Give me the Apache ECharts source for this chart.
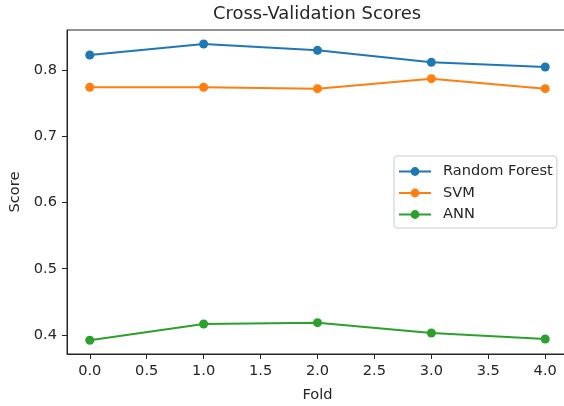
<!DOCTYPE html>
<html>
<head>
<meta charset="utf-8">
<script src="https://cdn.jsdelivr.net/npm/echarts@6/dist/echarts.min.js"></script>
<style>
  html, body { margin: 0; padding: 0; background: #fff; }
  #chart { width: 564px; height: 406px; }
</style>
</head>
<body>
<div id="chart"></div>
<script>
// Fold indices and per-model cross-validation scores
const folds = [0, 1, 2, 3, 4];
const randomForest = [0.8226, 0.8392, 0.8297, 0.8116, 0.8045];
const svm = [0.7739, 0.7739, 0.7718, 0.7869, 0.7718];
const ann = [0.3920, 0.4166, 0.4186, 0.4030, 0.3940];

// Tick positions
const xTicks = [0, 0.5, 1, 1.5, 2, 2.5, 3, 3.5, 4];
const yTicks = [0.4, 0.5, 0.6, 0.7, 0.8];

const seriesNames = ['Random Forest', 'SVM', 'ANN'];
const seriesColors = ['#1f77b4', '#ff7f0e', '#2ca02c'];
const seriesValues = [randomForest, svm, ann];

const FONT = 'DejaVu Sans';
const INK = '#262626';

const chart = echarts.init(document.getElementById('chart'), null, { renderer: 'canvas' });

const series = seriesNames.map((name, i) => ({
  name: name,
  type: 'line',
  data: folds.map((f, j) => [f, seriesValues[i][j]]),
  symbol: 'circle',
  symbolSize: 9,
  showSymbol: true,
  lineStyle: { width: 2, color: seriesColors[i] },
  itemStyle: { color: seriesColors[i] },
  emphasis: { disabled: true },
  animation: false,
  z: 2 + i
}));

chart.setOption({
  animation: false,
  backgroundColor: '#fff',
  title: {
    text: 'Cross-Validation Scores',
    left: 317,
    top: 5,
    textAlign: 'center',
    padding: 0,
    textStyle: { fontFamily: FONT, fontSize: 17.9, fontWeight: 'normal', color: INK }
  },
  grid: {
    left: 67,
    top: 30,
    width: 501,
    height: 324,
    show: true,
    borderColor: INK,
    borderWidth: 1,
    backgroundColor: 'transparent',
    containLabel: false,
    outerBoundsMode: 'none'
  },
  legend: {
    data: seriesNames,
    orient: 'vertical',
    left: 394,
    top: 156,
    itemWidth: 32,
    itemHeight: 11,
    itemGap: 6.5,
    padding: [8, 4, 6, 4],
    backgroundColor: '#fff',
    borderColor: '#cccccc',
    borderWidth: 1,
    borderRadius: 3,
    textStyle: { fontFamily: FONT, fontSize: 14.6, color: INK, padding: [0, 0, 0, 7] },
    selectedMode: false
  },
  xAxis: {
    type: 'value',
    min: -0.2,
    max: 4.2,
    name: 'Fold',
    nameLocation: 'middle',
    nameGap: 34,
    nameTextStyle: { fontFamily: FONT, fontSize: 14.6, color: INK },
    splitLine: { show: false },
    axisLine: { show: true, onZero: false, lineStyle: { color: INK, width: 1 } },
    axisTick: { show: true, length: 5, lineStyle: { color: INK, width: 1 }, customValues: xTicks },
    axisLabel: {
      fontFamily: FONT, fontSize: 14.6, color: INK, margin: 10,
      customValues: xTicks,
      formatter: v => v.toFixed(1)
    }
  },
  yAxis: {
    type: 'value',
    min: 0.3713,
    max: 0.8604,
    name: 'Score',
    nameLocation: 'middle',
    nameGap: 39,
    nameRotate: 90,
    nameTextStyle: { fontFamily: FONT, fontSize: 14.6, color: INK },
    splitLine: { show: false },
    axisLine: { show: true, onZero: false, lineStyle: { color: INK, width: 1 } },
    axisTick: { show: true, length: 5, lineStyle: { color: INK, width: 1 }, customValues: yTicks },
    axisLabel: {
      fontFamily: FONT, fontSize: 14.6, color: INK, margin: 10,
      customValues: yTicks,
      formatter: v => v.toFixed(1)
    }
  },
  series: series
});
</script>
</body>
</html>
